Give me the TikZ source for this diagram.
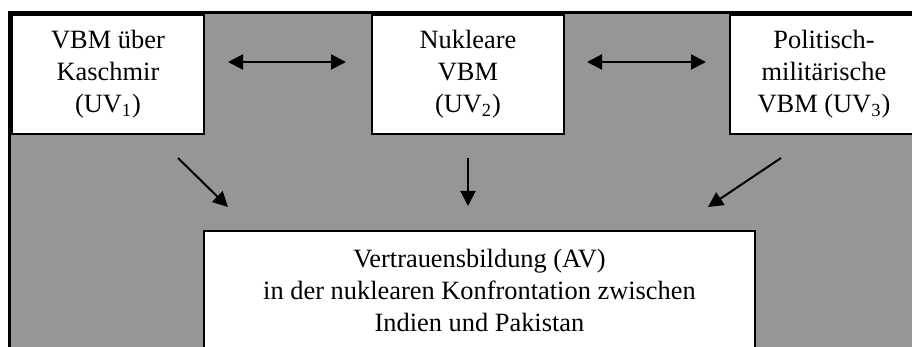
\documentclass[tikz,border=0pt]{standalone}
\usepackage{fontspec}
\setmainfont{Liberation Serif}
\usetikzlibrary{arrows.meta}
\tikzset{
  panel/.style={draw=black, line width=1.5pt, fill=panelgray},
  varbox/.style={draw=black, line width=1pt, fill=white, inner sep=0pt,
    align=center, font=\fontsize{13.2}{16}\selectfont},
  link/.style={line width=1pt, -{Triangle[length=7.5pt,width=7.5pt]}},
  mutual/.style={line width=1pt, {Triangle[length=7.5pt,width=7.5pt]}-{Triangle[length=7.5pt,width=7.5pt]}}
}
\definecolor{panelgray}{RGB}{150,150,150}
\begin{document}
\begin{tikzpicture}[x=0.5pt,y=-0.5pt]
  \useasboundingbox (0,0) rectangle (912,347);
  \clip (0,0) rectangle (912,347);
  % grey panel, bordered at top and left
  \draw[panel] (9.5,13) rectangle (930,370);

  % independent variables
  \node[varbox, minimum width=96pt, minimum height=59.5pt] (b1) at (108,74.5)
    {VBM über\\Kaschmir\\(UV\textsubscript{1})};
  \node[varbox, minimum width=96pt, minimum height=59.5pt] (b2) at (468,74.5)
    {Nukleare\\VBM\\(UV\textsubscript{2})};
  \node[varbox, minimum width=94pt, minimum height=59.5pt] (b3) at (824,74.5)
    {Politisch-\\militärische\\VBM (UV\textsubscript{3})};

  % dependent variable
  \node[varbox, minimum width=275.5pt, minimum height=59pt] (av) at (479.5,290)
    {Vertrauensbildung (AV)\\in der nuklearen Konfrontation zwischen\\Indien und Pakistan};

  % arrow end points
  \coordinate (h1a) at (228,62);
  \coordinate (h1b) at (346,62);
  \coordinate (h2a) at (587,62);
  \coordinate (h2b) at (706,62);
  \coordinate (d1a) at (178,158);
  \coordinate (d1b) at (228,207);
  \coordinate (d2a) at (468,158);
  \coordinate (d2b) at (468,206);
  \coordinate (d3a) at (781,158);
  \coordinate (d3b) at (708,207);

  % mutual relations between the measures
  \draw[mutual] (h1a) -- (h1b);
  \draw[mutual] (h2a) -- (h2b);

  % effects on confidence building
  \draw[link] (d1a) -- (d1b);
  \draw[link] (d2a) -- (d2b);
  \draw[link] (d3a) -- (d3b);
\end{tikzpicture}
\end{document}
